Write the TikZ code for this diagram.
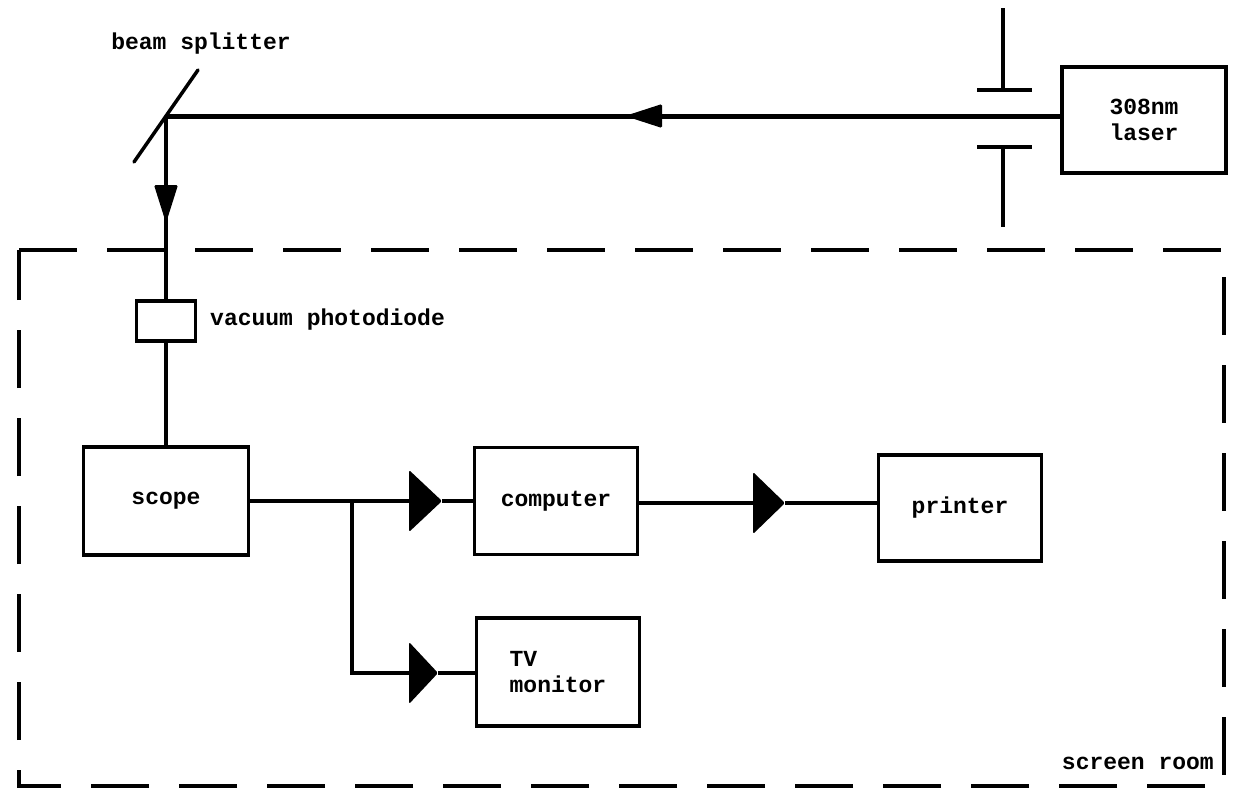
\documentclass[tikz,border=0pt]{standalone}
\usepackage{fontspec}
\usetikzlibrary{calc}
\newfontfamily\labfont{Liberation Mono}
\newcommand\lab{\fontsize{23}{26}\selectfont\labfont\bfseries}
\begin{document}
\begin{tikzpicture}[x=1pt,y=-1pt,
  box/.style={draw, line width=3.2pt, rectangle, inner sep=0pt, font=\lab, align=center},
  wire/.style={line width=3.2pt},
  beam/.style={line width=5pt},
  lbl/.style={font=\lab, inner sep=0pt},
  room/.style={line width=3.5pt, dash pattern=on 58pt off 30pt},
  tipfill/.style={fill=black, rounded corners=1.5pt}]
\useasboundingbox (0,0) rectangle (1236,790);
% screen room
\draw[room] (19,250) -- (1224,250) -- (1224,786) -- (19,786) -- cycle;
\node[lbl, anchor=east] (sr) at (1214,763) {screen room};
% nodes
\node[box, minimum width=164pt, minimum height=106pt] (laser) at (1144,120) {308nm\\laser};
\node[box, minimum width=59pt, minimum height=40pt] (pd) at (166,321) {};
\node[lbl, anchor=west] (pdl) at (210,320) {vacuum photodiode};
\node[box, minimum width=165pt, minimum height=108pt] (scope) at (166,501) {scope};
\node[box, minimum width=163pt, minimum height=107pt] (comp) at (556,501) {computer};
\node[box, minimum width=163pt, minimum height=108pt, align=left] (tv) at (558,672) {TV\\monitor};
\node[box, minimum width=163pt, minimum height=106pt] (printer) at (960,508) {printer};
\node[lbl] (bsl) at (201,44) {beam splitter};
% beam splitter and aperture
\coordinate (bs) at (166,116);
\coordinate (m1) at (198,70);
\coordinate (m2) at (134,162);
\draw[line width=3.5pt, line cap=round] (m1) -- (m2);
\coordinate (ap1) at (1003,8);
\coordinate (ap1b) at (1003,90);
\coordinate (ap2) at (1003,147);
\coordinate (ap2b) at (1003,227);
\draw[wire] (ap1) -- (ap1b);
\draw[wire] (977,90) -- (1032,90);
\draw[wire] (ap2) -- (ap2b);
\draw[wire] (977,147) -- (1032,147);
% beam
\draw[beam] (bs -| laser.west) -- (bs);
\draw[wire] (bs) -- (pd.north);
\fill[tipfill] (625,116) -- (662,104) -- (662,128) -- cycle;
\fill[tipfill] (166,223) -- (154,185) -- (178,185) -- cycle;
% signal chain
\draw[wire] (pd.south) -- (scope.north);
\coordinate (j1) at (352,501);
\coordinate (j2) at (352,673);
\coordinate (a1) at (409,501);
\coordinate (a1t) at (442,501);
\coordinate (a2) at (409,673);
\coordinate (a2t) at (438,673);
\coordinate (a3) at (753,503);
\coordinate (a3t) at (785,503);
\draw[wire] (scope.east) -- (a1);
\draw[wire] (j1) -- (j2) -- (a2);
\draw[wire] (a1t) -- (comp.west);
\draw[wire] (a2t) -- (a2t -| tv.west);
\draw[wire] (comp.east) -- (a3 -| comp.east) -- (a3);
\draw[wire] (a3t) -- (a3t -| printer.west);
\fill[tipfill] (a1t) -- ($(a1)+(0,-31)$) -- ($(a1)+(0,31)$) -- cycle;
\fill[tipfill] (a2t) -- ($(a2)+(0,-31)$) -- ($(a2)+(0,31)$) -- cycle;
\fill[tipfill] (a3t) -- ($(a3)+(0,-31)$) -- ($(a3)+(0,31)$) -- cycle;
\end{tikzpicture}
\end{document}
